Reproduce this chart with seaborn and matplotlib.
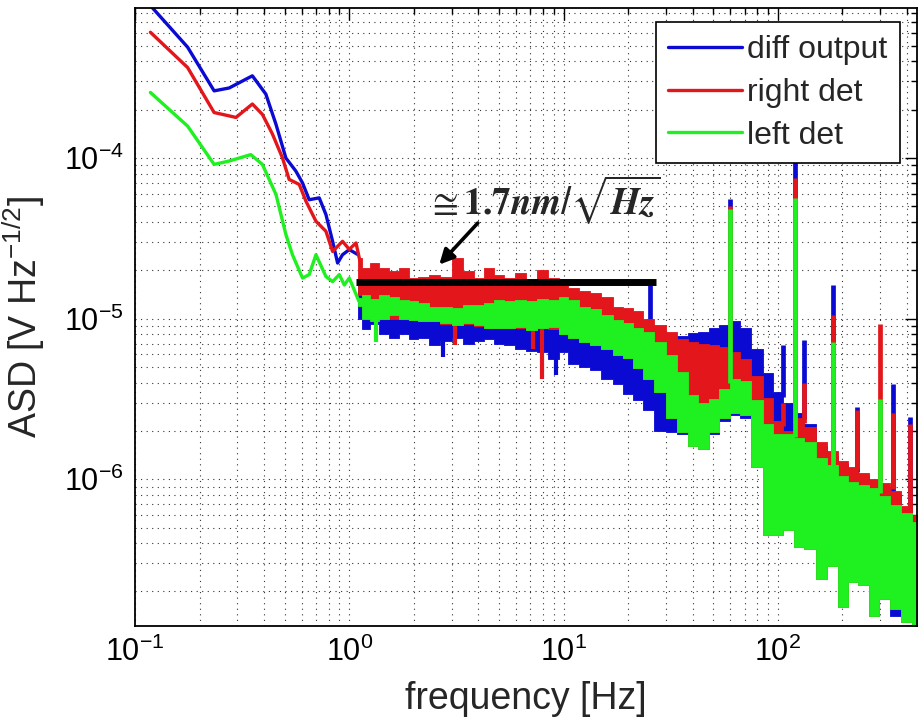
import numpy as np
import matplotlib
matplotlib.use("Agg")
import matplotlib.pyplot as plt
import seaborn as sns

# ---------------- data ----------------
series_names = ["diff output", "right det", "left det"]

# smooth low-frequency part of each spectrum  [Hz], [V/sqrt(Hz)]
diff_lf_freq = [0.118, 0.176, 0.234, 0.275, 0.353, 0.408, 0.455, 0.506, 0.563,
                0.605, 0.65, 0.724, 0.778, 0.836, 0.882, 0.93, 1.0, 1.1]
diff_lf_asd = [8.9e-4, 4.9e-4, 2.62e-4, 2.73e-4, 3.25e-4, 2.5e-4, 1.62e-4, 1.0e-4,
               8.3e-5, 7.0e-5, 5.5e-5, 5.65e-5, 4.45e-5, 3.03e-5, 2.22e-5, 2.5e-5,
               2.69e-5, 2.5e-5]

right_lf_freq = [0.118, 0.176, 0.234, 0.275, 0.296, 0.353, 0.393, 0.438, 0.488,
                 0.524, 0.584, 0.628, 0.699, 0.778, 0.836, 0.93, 1.0, 1.075, 1.12]
right_lf_asd = [6.07e-4, 3.66e-4, 1.92e-4, 1.83e-4, 1.79e-4, 2.17e-4, 1.87e-4,
                1.41e-4, 1.0e-4, 7.36e-5, 6.85e-5, 5.38e-5, 4.04e-5, 3.5e-5,
                2.62e-5, 3.03e-5, 2.7e-5, 2.96e-5, 2.3e-5]

left_lf_freq = [0.118, 0.176, 0.234, 0.275, 0.347, 0.393, 0.455, 0.506, 0.543,
                0.605, 0.65, 0.699, 0.778, 0.836, 0.898, 0.948, 1.0, 1.11, 1.2]
left_lf_asd = [2.56e-4, 1.58e-4, 9.13e-5, 9.58e-5, 1.05e-4, 9.13e-5, 5.93e-5,
               3.34e-5, 2.5e-5, 1.79e-5, 1.88e-5, 2.5e-5, 1.83e-5, 1.70e-5,
               1.88e-5, 1.62e-5, 1.79e-5, 1.28e-5, 1.2e-5]

# dense part of the spectra: upper / lower envelope of the fluctuating trace
band_freq = [1.1, 1.2, 1.3, 1.45, 1.6, 1.8, 2.0, 2.2, 2.5, 2.8,
             3.2, 3.6, 4.0, 4.5, 5.0, 5.6, 6.3, 7.0, 8.0, 9.0,
             10, 11, 12.5, 14, 16, 18, 20, 22, 25, 28,
             32, 36, 40, 45, 50, 56, 63, 70, 80, 90,
             100, 112, 125, 140, 160, 180, 200, 225, 250, 280,
             315, 355, 400, 450]

diff_hi = [1.6e-5, 1.3e-5, 1.3e-5, 1.3e-5, 1.3e-5, 1.3e-5, 1.25e-5, 1.2e-5, 1.15e-5, 1.15e-5,
           1.1e-5, 1.15e-5, 1.15e-5, 1.2e-5, 1.25e-5, 1.2e-5, 1.25e-5, 1.2e-5, 1.25e-5, 1.25e-5,
           1.3e-5, 1.3e-5, 1.25e-5, 1.2e-5, 1.15e-5, 1.1e-5, 1.05e-5, 1.0e-5, 9.0e-6, 8.2e-6,
           7.6e-6, 7.8e-6, 8.1e-6, 8.3e-6, 8.7e-6, 9.1e-6, 9.6e-6, 8.8e-6, 6.5e-6, 4.6e-6,
           3.5e-6, 3.0e-6, 2.6e-6, 2.2e-6, 1.6e-6, 1.4e-6, 1.25e-6, 1.15e-6, 1.05e-6, 9.5e-7,
           9.0e-7, 8.0e-7, 6.5e-7, 5.8e-7]
diff_lo = [1.0e-5, 8.6e-6, 9.2e-6, 8.0e-6, 7.6e-6, 8.0e-6, 7.5e-6, 7.6e-6, 6.9e-6, 7.3e-6,
           7.6e-6, 7.0e-6, 7.3e-6, 7.5e-6, 7.0e-6, 6.9e-6, 6.5e-6, 6.3e-6, 6.2e-6, 5.6e-6,
           6.2e-6, 5.2e-6, 5.0e-6, 4.8e-6, 4.2e-6, 3.9e-6, 3.4e-6, 3.1e-6, 2.7e-6, 2.0e-6,
           1.97e-6, 1.9e-6, 1.6e-6, 1.55e-6, 1.9e-6, 2.3e-6, 2.5e-6, 2.4e-6, 1.2e-6, 4.6e-7,
           4.6e-7, 4.9e-7, 3.9e-7, 3.8e-7, 2.5e-7, 3.0e-7, 1.7e-7, 2.4e-7, 2.3e-7, 1.5e-7,
           1.9e-7, 1.4e-7, 1.35e-7, 1.25e-7]

right_hi = [2.4e-5, 2.06e-5, 2.22e-5, 2.06e-5, 1.97e-5, 2.06e-5, 1.79e-5, 1.82e-5, 1.86e-5, 1.82e-5,
            2.38e-5, 1.97e-5, 1.79e-5, 2.06e-5, 1.86e-5, 1.79e-5, 1.93e-5, 1.75e-5, 2.0e-5, 1.79e-5,
            1.65e-5, 1.55e-5, 1.48e-5, 1.44e-5, 1.37e-5, 1.19e-5, 1.16e-5, 1.11e-5, 1.0e-5, 9.1e-6,
            8.3e-6, 7.5e-6, 7.2e-6, 7.0e-6, 6.85e-6, 6.7e-6, 6.2e-6, 5.6e-6, 4.4e-6, 3.2e-6,
            2.3e-6, 2.0e-6, 2.4e-6, 2.1e-6, 1.7e-6, 1.5e-6, 1.3e-6, 1.2e-6, 1.1e-6, 1.0e-6,
            9.5e-7, 8.5e-7, 6.8e-7, 6.0e-7]
right_lo = [1.4e-5, 1.1e-5, 1.0e-5, 1.0e-5, 1.0e-5, 1.0e-5, 9.8e-6, 9.6e-6, 9.6e-6, 9.3e-6,
            9.1e-6, 9.2e-6, 9.0e-6, 8.7e-6, 8.7e-6, 8.7e-6, 8.8e-6, 8.5e-6, 8.7e-6, 8.6e-6,
            8.0e-6, 7.6e-6, 7.2e-6, 6.85e-6, 6.5e-6, 5.9e-6, 5.65e-6, 4.9e-6, 4.2e-6, 3.5e-6,
            2.4e-6, 1.97e-6, 1.62e-6, 1.55e-6, 1.97e-6, 2.4e-6, 2.6e-6, 2.5e-6, 1.2e-6, 4.5e-7,
            4.5e-7, 4.8e-7, 3.8e-7, 3.7e-7, 2.4e-7, 2.9e-7, 1.6e-7, 2.3e-7, 2.2e-7, 1.4e-7,
            1.8e-7, 1.55e-7, 1.3e-7, 1.2e-7]

left_hi = [1.35e-5, 1.41e-5, 1.33e-5, 1.41e-5, 1.37e-5, 1.31e-5, 1.28e-5, 1.25e-5, 1.19e-5, 1.19e-5,
           1.16e-5, 1.22e-5, 1.22e-5, 1.25e-5, 1.31e-5, 1.28e-5, 1.31e-5, 1.28e-5, 1.33e-5, 1.31e-5,
           1.37e-5, 1.31e-5, 1.19e-5, 1.14e-5, 1.05e-5, 9.8e-6, 9.35e-6, 8.7e-6, 8.3e-6, 7.2e-6,
           5.9e-6, 4.65e-6, 3.33e-6, 3.0e-6, 3.18e-6, 3.65e-6, 4.2e-6, 4.1e-6, 3.1e-6, 2.2e-6,
           1.9e-6, 1.9e-6, 1.8e-6, 1.7e-6, 1.35e-6, 1.22e-6, 1.05e-6, 9.6e-7, 9.2e-7, 8.8e-7,
           7.9e-7, 6.9e-7, 6.2e-7, 5.4e-7]
left_lo = [1.2e-5, 1.0e-5, 9.6e-6, 1.0e-5, 1.05e-5, 1.0e-5, 9.8e-6, 9.6e-6, 9.6e-6, 9.35e-6,
           9.1e-6, 9.35e-6, 9.1e-6, 8.7e-6, 8.7e-6, 8.7e-6, 8.9e-6, 8.5e-6, 8.7e-6, 8.9e-6,
           8.0e-6, 7.6e-6, 7.2e-6, 6.85e-6, 6.5e-6, 5.9e-6, 5.65e-6, 4.9e-6, 4.2e-6, 3.5e-6,
           2.4e-6, 1.97e-6, 1.62e-6, 1.55e-6, 1.97e-6, 2.4e-6, 2.6e-6, 2.5e-6, 1.2e-6, 4.5e-7,
           4.5e-7, 4.8e-7, 3.8e-7, 3.7e-7, 2.4e-7, 2.9e-7, 1.6e-7, 2.3e-7, 2.2e-7, 1.4e-7,
           1.8e-7, 1.55e-7, 1.3e-7, 1.2e-7]

# narrow spectral lines: frequency and peak height per channel (nan = no line)
line_freq = [25.3, 60, 106, 120, 133, 180, 233, 300, 345, 413]
diff_line_top = [1.63e-5, 5.55e-5, 6.9e-6, 1.1e-4, 7.4e-6, 1.63e-5, 2.8e-6, np.nan, 3.9e-6, 2.45e-6]
right_line_top = [np.nan, 5.0e-5, 3.0e-6, 7.5e-5, 4.0e-6, 1.06e-5, 2.7e-6, 9.3e-6, 2.6e-6, 2.2e-6]
left_line_top = [np.nan, 4.8e-5, np.nan, 5.6e-5, np.nan, 7.2e-6, np.nan, 3.18e-6, np.nan, np.nan]

# narrow downward dips
diff_dip_freq = [2.75, 9.2]
diff_dip_asd = [5.8e-6, 4.45e-6]
right_dip_freq = [3.1, 7.2, 7.9]
right_dip_asd = [6.9e-6, 6.5e-6, 4.2e-6]
left_dip_freq = [1.33]
left_dip_asd = [7.2e-6]

# flat noise level marked on the plot (units of 1e-5 V/sqrt(Hz))
level = 1.7
level_freq_range = [1.07, 27.0]

# ---------------- style ----------------
sns.set_theme(style="white")
plt.rcParams["font.family"] = ["Liberation Sans", "DejaVu Sans"]
plt.rcParams["mathtext.fontset"] = "custom"
plt.rcParams["mathtext.rm"] = "Liberation Sans"
plt.rcParams["mathtext.it"] = "Liberation Sans:italic"
plt.rcParams["mathtext.bf"] = "Liberation Sans:bold"
plt.rcParams["mathtext.default"] = "regular"
plt.rcParams["axes.unicode_minus"] = False

colors = ["#0a0ad2", "#e3161b", "#1ff01f"]

fig = plt.figure(figsize=(9.19, 7.23), dpi=100)
fig.patch.set_facecolor("white")
ax = fig.add_axes([0.1469, 0.1342, 0.8509, 0.8548])
ax.set_xscale("log")
ax.set_yscale("log")

channels = [
    (diff_lf_freq, diff_lf_asd, diff_hi, diff_lo, diff_line_top, diff_dip_freq, diff_dip_asd),
    (right_lf_freq, right_lf_asd, right_hi, right_lo, right_line_top, right_dip_freq, right_dip_asd),
    (left_lf_freq, left_lf_asd, left_hi, left_lo, left_line_top, left_dip_freq, left_dip_asd),
]

logf = np.log10(band_freq)
for i, (name, col, ch) in enumerate(zip(series_names, colors, channels)):
    lf_f, lf_v, hi, lo, tops, dip_f, dip_v = ch
    z = 2 + 0.2 * i
    sns.lineplot(x=lf_f, y=lf_v, ax=ax, color=col, linewidth=2.4, label=name,
                 sort=False, estimator=None, zorder=z + 0.1)
    ax.fill_between(band_freq, lo, hi, step="mid", color=col, edgecolor=col,
                    linewidth=0.6, zorder=z)
    # spectral lines rise from the band's upper edge
    tops = np.asarray(tops, dtype=float)
    ok = ~np.isnan(tops)
    lf = np.asarray(line_freq)[ok]
    base = 10 ** np.interp(np.log10(lf), logf, np.log10(hi))
    ax.vlines(lf, base, tops[ok], colors=col, linewidth=3.4, zorder=z + 0.05)
    # dips fall from the band's lower edge
    df = np.asarray(dip_f)
    dbase = 10 ** np.interp(np.log10(df), logf, np.log10(lo))
    ax.vlines(df, dip_v, dbase, colors=col, linewidth=3.0, zorder=z + 0.05)

# noise level bar and its annotation
ax.hlines(level * 1e-5, *level_freq_range, colors="black", linewidth=5, zorder=5)
ax.text(2.30, 4.47e-5, r"$\cong\mathbf{1.7}\mathbfit{nm}/\sqrt{\mathbfit{Hz}}$",
        math_fontfamily="stix", fontsize=27, ha="left", va="baseline", zorder=6)
ax.annotate("", xy=(2.63, 2.17e-5), xytext=(3.98, 3.94e-5),
            arrowprops=dict(arrowstyle="-|>", color="black", lw=2.6,
                            mutation_scale=22, shrinkA=0, shrinkB=0),
            zorder=6)

ax.set_xlim(0.1, 446)
ax.set_ylim(1.22e-7, 8.6e-4)

ax.grid(True, which="both", color="black", linestyle=(0, (1, 4)), linewidth=0.8, alpha=0.8)
ax.set_axisbelow(True)
ax.tick_params(which="both", direction="in", top=True, right=True,
               colors="black", width=1.0)
ax.tick_params(which="major", length=8.5, labelsize=22, pad=8)
ax.tick_params(which="minor", length=4.5)
for s in ax.spines.values():
    s.set_color("black")
    s.set_linewidth(1.3)

ax.set_xlabel("frequency [Hz]", fontsize=27, labelpad=9)
ax.set_ylabel(r"ASD [V Hz$^{-1/2}$]", fontsize=27, labelpad=12)

leg = ax.legend(loc="upper right", bbox_to_anchor=(0.978, 0.977), borderaxespad=0,
                fontsize=23, frameon=True, fancybox=False, edgecolor="black",
                framealpha=1, handlelength=2.3, handletextpad=0.15,
                labelspacing=0.4, borderpad=0.4)
leg.get_frame().set_linewidth(1.2)
leg.set_zorder(10)

fig.savefig("out.png", dpi=100, facecolor="white")
